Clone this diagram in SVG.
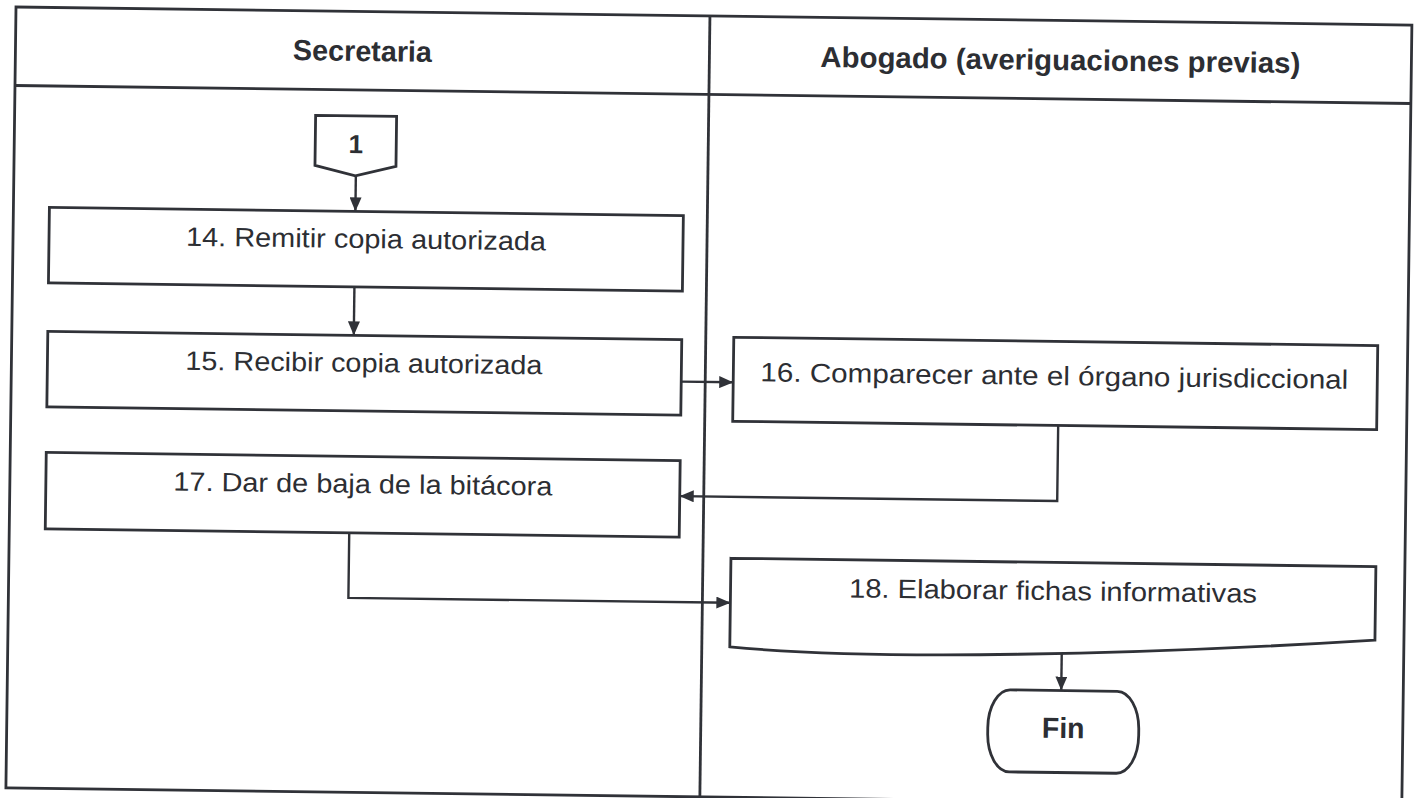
<svg xmlns="http://www.w3.org/2000/svg" width="1422" height="798" viewBox="0 0 1422 798">
<defs>
<style>
.frame{fill:none;stroke:#303238;stroke-width:2.8}
.box{fill:#ffffff;stroke:#303238;stroke-width:2.8}
.conn{fill:none;stroke:#303238;stroke-width:2.4}
.t{font-family:"Liberation Sans",Arial,sans-serif;font-size:26.5px;fill:#2c2e33;text-anchor:middle}
.h{font-family:"Liberation Sans",Arial,sans-serif;font-size:29px;font-weight:bold;fill:#2c2e33;text-anchor:middle}
</style>
<marker id="arr" markerUnits="userSpaceOnUse" viewBox="0 0 14 12" markerWidth="14" markerHeight="12" refX="14" refY="6" orient="auto">
<path d="M0,0 L14,6 L0,12 Z" fill="#303238"/>
</marker>
</defs>
<rect x="0" y="0" width="1422" height="798" fill="#ffffff"/>
<g transform="rotate(0.74 16 7)">
<g id="lanes">
<rect class="frame" x="16" y="7" width="1396" height="781"/>
<line class="frame" x1="16" y1="85.5" x2="1412" y2="85.5"/>
<line class="frame" x1="710" y1="7" x2="710" y2="788"/>
<text class="h" x="363" y="56.5" textLength="139" lengthAdjust="spacingAndGlyphs">Secretaria</text>
<text class="h" x="1061" y="56.5" textLength="480" lengthAdjust="spacingAndGlyphs">Abogado (averiguaciones previas)</text>
</g>
<g id="connectors">
<line class="conn" x1="358" y1="171.5" x2="358" y2="207" marker-end="url(#arr)"/>
<line class="conn" x1="358" y1="282.5" x2="358" y2="331" marker-end="url(#arr)"/>
<line class="conn" x1="686" y1="373" x2="738" y2="373" marker-end="url(#arr)"/>
<path class="conn" d="M1063.5 412 V487.5 H686" marker-end="url(#arr)"/>
<path class="conn" d="M356 528.5 V593.5 H738" marker-end="url(#arr)"/>
<line class="conn" x1="1070" y1="640" x2="1070" y2="677" marker-end="url(#arr)"/>
</g>
<g id="node-1">
<polygon class="box" points="317,111.5 398,111.5 398,161.5 357.5,171.5 317,161.5"/>
<text class="h" x="357.5" y="148.6" style="font-size:26px">1</text>
</g>
<g id="node-14">
<rect class="box" x="52" y="207" width="634" height="75.5"/>
<text class="t" x="369" y="243.5" textLength="360" lengthAdjust="spacingAndGlyphs">14. Remitir copia autorizada</text>
</g>
<g id="node-15">
<rect class="box" x="52" y="331" width="634" height="75.5"/>
<text class="t" x="368.5" y="367.5" textLength="357" lengthAdjust="spacingAndGlyphs">15. Recibir copia autorizada</text>
</g>
<g id="node-16">
<rect class="box" x="738" y="328" width="644" height="84"/>
<text class="t" x="1059" y="371.6" textLength="588" lengthAdjust="spacingAndGlyphs">16. Comparecer ante el órgano jurisdiccional</text>
</g>
<g id="node-17">
<rect class="box" x="52" y="452" width="634" height="76.5"/>
<text class="t" x="369" y="488.5" textLength="379" lengthAdjust="spacingAndGlyphs">17. Dar de baja de la bitácora</text>
</g>
<g id="node-18">
<path class="box" d="M738 549 H1383 V622.5 C1150 640 880 650 738 637.5 Z"/>
<text class="t" x="1060.5" y="586.6" textLength="408" lengthAdjust="spacingAndGlyphs">18. Elaborar fichas informativas</text>
</g>
<g id="node-fin">
<rect class="box" x="997" y="677" width="151" height="82" rx="22" ry="38"/>
<text class="h" x="1072.5" y="724.4" textLength="42.6" lengthAdjust="spacingAndGlyphs">Fin</text>
</g>
</g>
</svg>
